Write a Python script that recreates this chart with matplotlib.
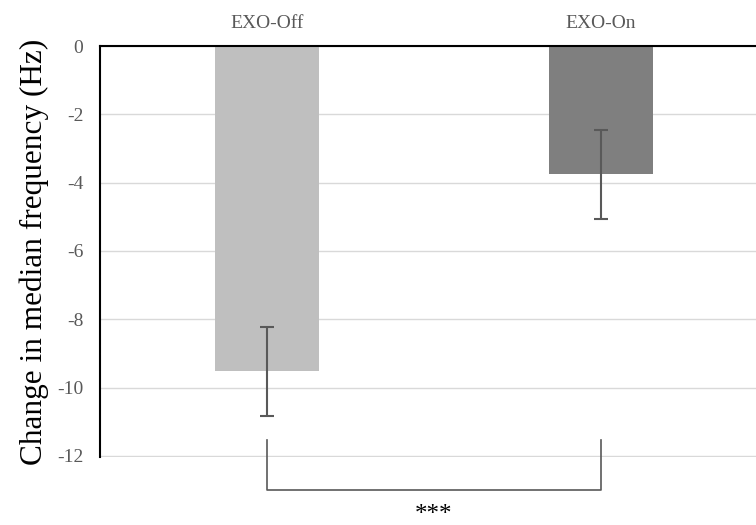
import matplotlib.pyplot as plt

conditions = ['EXO-Off', 'EXO-On']
change = [-9.52, -3.75]
err = [1.3, 1.3]
bar_colors = ['#BFBFBF', '#7F7F7F']
yticks = [0, -2, -4, -6, -8, -10, -12]
signif = '***'

plt.rcParams['font.family'] = ['Liberation Serif', 'DejaVu Serif']

fig = plt.figure(figsize=(7.56, 5.25), dpi=100)
ax = fig.add_axes([100/756, 68/525, 656/756, 411/525])

x = [0.5, 1.5]
ax.bar(x, change, width=0.31, color=bar_colors, zorder=2)
ax.errorbar(x, change, yerr=err, fmt='none', ecolor='#595959',
            elinewidth=1.5, capsize=5, capthick=1.5, zorder=3)

ax.set_xlim(0, 656/334)
ax.set_ylim(-12.03, 0)
ax.set_yticks(yticks)
ax.set_yticklabels([str(t) for t in yticks])
ax.yaxis.grid(True, color='#D9D9D9', lw=1, zorder=0)
ax.set_axisbelow(True)

ax.xaxis.tick_top()
ax.set_xticks(x)
ax.set_xticklabels(conditions)
ax.tick_params(axis='x', length=0, pad=10, labelsize=14, colors='#595959')
ax.tick_params(axis='y', length=0, pad=12, labelsize=14, colors='#595959')

for s in ['bottom', 'right']:
    ax.spines[s].set_visible(False)
for s in ['top', 'left']:
    ax.spines[s].set_color('black')
    ax.spines[s].set_linewidth(1.5)

ax.set_ylabel('Change in median frequency (Hz)', fontsize=22.5, color='black', labelpad=6)

# significance bracket
ax.plot([x[0], x[0], x[1], x[1]], [-11.53, -13.0, -13.0, -11.53],
        color='#595959', lw=1.2, clip_on=False)
ax.text((x[0] + x[1]) / 2, -13.4, signif, ha='center', va='top',
        fontsize=18, color='black')

fig.savefig('out.png', dpi=100)
